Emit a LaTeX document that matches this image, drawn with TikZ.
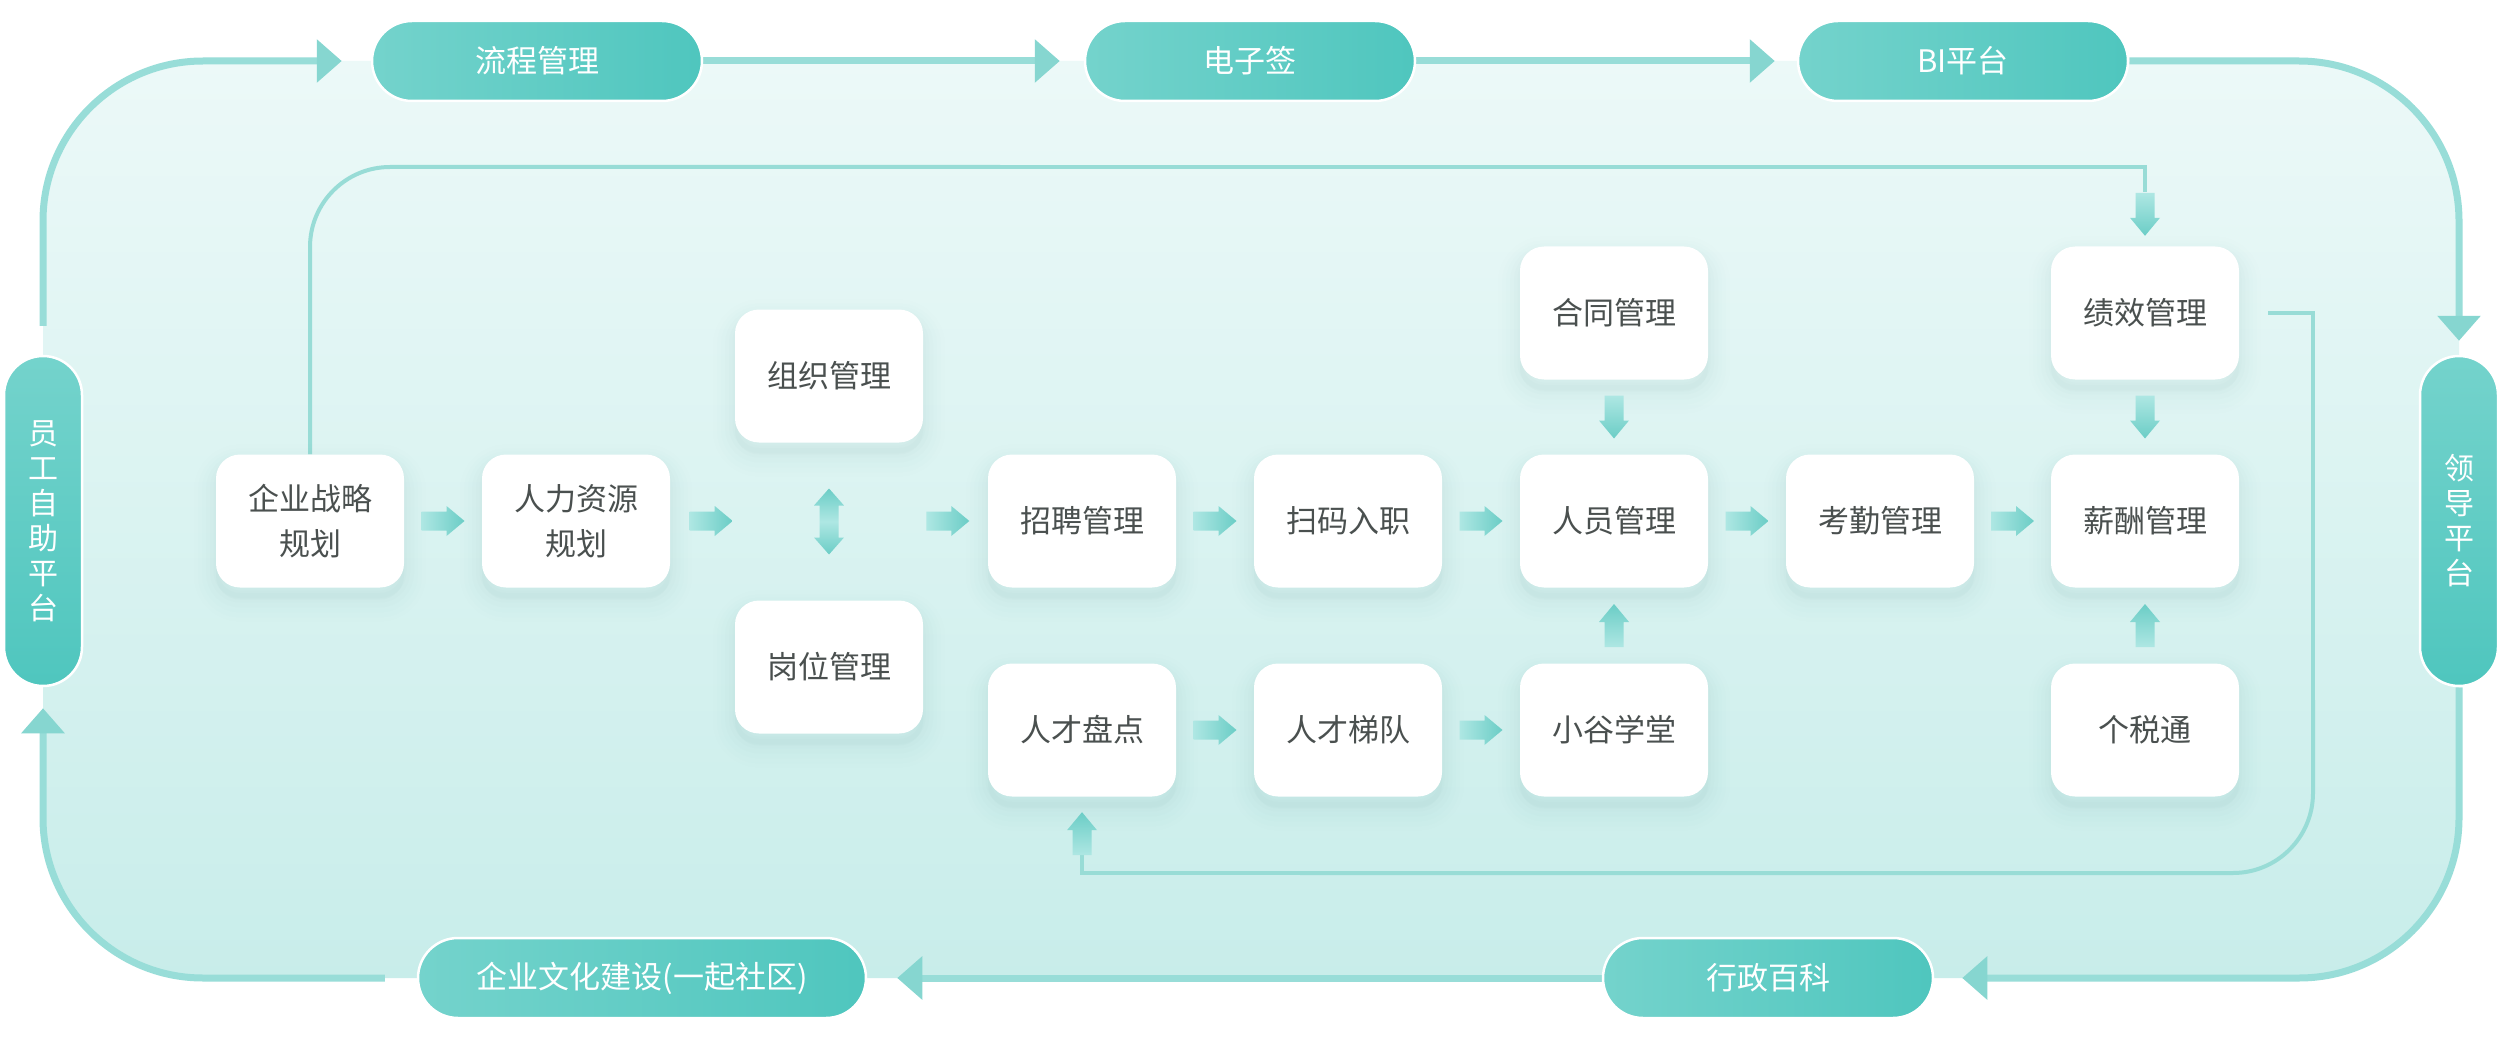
\documentclass[tikz,border=0pt]{standalone}
\usepackage{fontspec}
\setmainfont{Noto Sans CJK SC}
\usetikzlibrary{calc,arrows.meta}
\definecolor{pillL}{HTML}{74D3CC}
\definecolor{pillR}{HTML}{4FC6BE}
\definecolor{lineC}{HTML}{98DDD8}
\definecolor{tipC}{HTML}{86D6D0}
\definecolor{innerC}{HTML}{98DCD6}
\definecolor{arrD}{HTML}{6BCDC6}
\definecolor{arrL}{HTML}{AEE7E3}
\definecolor{txtC}{HTML}{4A504F}
\definecolor{bgTop}{HTML}{ECF9F8}
\definecolor{bgBot}{HTML}{C8EDEA}
\definecolor{shC}{HTML}{6FA9A5}
\pgfdeclarelayer{bg}
\pgfsetlayers{bg,main}
\tikzset{
  card/.style={rectangle, rounded corners=24pt, fill=white, minimum width=188pt,
    minimum height=133pt, inner sep=0pt, text=txtC, align=center,
    font=\fontsize{31pt}{45pt}\selectfont,
    preaction={draw=shC, line width=44pt, draw opacity=0.008, fill=shC, fill opacity=0.03, transform canvas={yshift=-12pt}},
    preaction={draw=shC, line width=36pt, draw opacity=0.01, transform canvas={yshift=-12pt}},
    preaction={draw=shC, line width=28pt, draw opacity=0.012, transform canvas={yshift=-11pt}},
    preaction={draw=shC, line width=20pt, draw opacity=0.015, transform canvas={yshift=-10pt}},
    preaction={draw=shC, line width=12pt, draw opacity=0.018, transform canvas={yshift=-9pt}},
    preaction={draw=shC, line width=5pt, draw opacity=0.022, transform canvas={yshift=-8pt}}},
  hpill/.style={rectangle, rounded corners=40pt, minimum width=330pt, minimum height=80pt,
    inner sep=0pt, left color=pillL, right color=pillR, draw=white, line width=2.5pt,
    text=white, font=\fontsize{31pt}{36pt}\selectfont},
  vpill/.style={rectangle, rounded corners=39pt, minimum width=78pt, minimum height=330pt,
    inner sep=0pt, top color=pillL, bottom color=pillR, draw=white, line width=2.5pt,
    text=white, align=center, font=\fontsize{30pt}{35pt}\selectfont},
  outerline/.style={draw=lineC, line width=7pt},
  outertip/.style={-{Triangle[length=25pt,width=42pt,color=tipC]}},
  innerline/.style={draw=innerC, line width=4pt},
}
\newcommand\blkR[1]{\shade[left color=arrL,right color=arrD,shift={#1}] (-21.5,-9.5) -- (3.5,-9.5) -- (3.5,-15) -- (21.5,0) -- (3.5,15) -- (3.5,9.5) -- (-21.5,9.5) -- cycle;}
\newcommand\blkD[1]{\shade[top color=arrL,bottom color=arrD,shift={#1}] (-9.5,-21.5) -- (-9.5,3.5) -- (-15,3.5) -- (0,21.5) -- (15,3.5) -- (9.5,3.5) -- (9.5,-21.5) -- cycle;}
\newcommand\blkU[1]{\shade[top color=arrD,bottom color=arrL,shift={#1}] (-9.5,21.5) -- (-9.5,-3.5) -- (-15,-3.5) -- (0,-21.5) -- (15,-3.5) -- (9.5,-3.5) -- (9.5,21.5) -- cycle;}
\begin{document}
\begin{tikzpicture}[x=1pt,y=-1pt]
\useasboundingbox (0,0) rectangle (2501,1043);
\begin{pgfonlayer}{bg}
\fill[white] (0,0) rectangle (2501,1043);
\shade[top color=bgTop, bottom color=bgBot, rounded corners=160pt] (43,61) rectangle (2459,978);
\end{pgfonlayer}

% outer pills
\node[hpill] (lc) at (537,61) {流程管理};
\node[hpill] (dz) at (1250,61) {电子签};
\node[hpill] (bi) at (1963,61) {BI平台};
\node[hpill, minimum width=448pt] (qw) at (642,978) {企业文化建设(一起社区)};
\node[hpill] (xz) at (1768,978) {行政百科};
\node[vpill] (yg) at (43,521) {员\\工\\自\\助\\平\\台};
\node[vpill] (ld) at (2459,521) {领\\导\\平\\台};

% cards
\node[card] (qy) at (310,521) {企业战略\\规划};
\node[card] (hr) at (576,521) {人力资源\\规划};
\node[card] (zz) at (829,376) {组织管理};
\node[card] (gw) at (829,667) {岗位管理};
\node[card] (zp) at (1082,521) {招聘管理};
\node[card] (sm) at (1348,521) {扫码入职};
\node[card] (ry) at (1614,521) {人员管理};
\node[card] (kq) at (1880,521) {考勤管理};
\node[card] (xc) at (2145,521) {薪酬管理};
\node[card] (ht) at (1614,313) {合同管理};
\node[card] (jx) at (2145,313) {绩效管理};
\node[card] (rp) at (1082,730) {人才盘点};
\node[card] (rt) at (1348,730) {人才梯队};
\node[card] (xg) at (1614,730) {小谷学堂};
\node[card] (gs) at (2145,730) {个税通};
\coordinate (hub) at ($(zz.south)!.5!(gw.north)$);

\begin{pgfonlayer}{bg}
% outer loop
\draw[outerline, outertip, rounded corners=160pt, shorten >=29pt] ([yshift=29pt]yg.north) -- (yg.north |- lc.west) -- (lc.west);
\draw[outerline, outertip, shorten >=24pt] (lc.east) -- (dz.west);
\draw[outerline, outertip, shorten >=22pt] (dz.east) -- (bi.west);
\draw[outerline, outertip, rounded corners=160pt, shorten >=14pt] (bi.east) -- (bi.east -| ld.north) -- (ld.north);
\draw[outerline, outertip, rounded corners=160pt, shorten >=28pt] (ld.south) -- (ld.south |- xz.east) -- (xz.east);
\draw[outerline, outertip, shorten >=30pt] (xz.west) -- (qw.east);
\draw[outerline, outertip, rounded corners=160pt, shorten >=21pt] ([xshift=-32pt]qw.west) -- (qw.west -| yg.south) -- (yg.south);
% inner loop
\draw[innerline, rounded corners=80pt] (qy.north) -- (qy.north |- 0,167) -- (1000,167);
\draw[innerline] (1000,167) -- (jx.north |- 0,167) -- ($(jx.north)+(0,-54)$);
\draw[innerline] ($(jx.east)+(29,0)$) -- (2313,313) -- (2313,700);
\draw[innerline, rounded corners=80pt] (2313,700) -- (2313,873) -- (1300,873);
\draw[innerline] (1300,873) -- (rp.south |- 0,873) -- ($(rp.south)+(0,58)$);
\end{pgfonlayer}

% block arrows
\blkR{($(qy.east)!.5!(hr.west)$)}
\blkR{($(hr.east)+(41,0)$)}
\blkR{($(zp.west)+(-40,0)$)}
\blkR{($(zp.east)!.5!(sm.west)$)}
\blkR{($(sm.east)!.5!(ry.west)$)}
\blkR{($(ry.east)!.5!(kq.west)$)}
\blkR{($(kq.east)!.5!(xc.west)$)}
\blkR{($(rp.east)!.5!(rt.west)$)}
\blkR{($(rt.east)!.5!(xg.west)$)}
\blkD{($(ht.south)!.5!(ry.north)$)}
\blkD{($(jx.south)!.5!(xc.north)$)}
\blkD{($(jx.north)+(0,-32)$)}
\blkU{($(xg.north)!.5!(ry.south)$)}
\blkU{($(gs.north)!.5!(xc.south)$)}
\blkU{($(rp.south)+(0,37)$)}
\shade[top color=arrD, bottom color=arrD, middle color=arrL, shift={(hub)}] (0,-33) -- (15,-16) -- (9.5,-16) -- (9.5,16) -- (15,16) -- (0,33) -- (-15,16) -- (-9.5,16) -- (-9.5,-16) -- (-15,-16) -- cycle;
\end{tikzpicture}
\end{document}
